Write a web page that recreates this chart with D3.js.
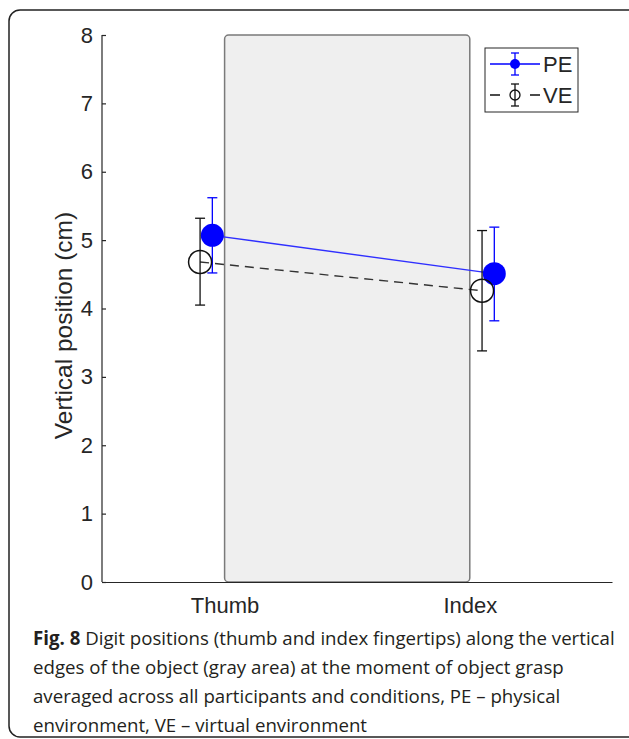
<!DOCTYPE html>
<html>
<head>
<meta charset="utf-8">
<script src="https://cdn.jsdelivr.net/npm/d3@7"></script>
<style>
  body { margin: 0; background: #fff; }
  svg { display: block; }
</style>
</head>
<body>
<div id="chart"></div>
<script>
// Data
let digits = ["Thumb", "Index"];
let digitPos = [1, 2];
let yTicks = [0, 1, 2, 3, 4, 5, 6, 7, 8];
let objectSpan = [1, 2];         // gray object, x extent
let objectHeight = [0, 8];       // gray object, y extent

let seriesNames = ["PE", "VE"];
let peX = [0.95, 2.1];
let peMean = [5.07, 4.51];
let peLow = [4.52, 3.82];
let peHigh = [5.62, 5.19];
let veX = [0.9, 2.05];
let veMean = [4.68, 4.26];
let veLow = [4.05, 3.38];
let veHigh = [5.32, 5.14];

let captionBold = "Fig. 8";
let captionLines = [
  " Digit positions (thumb and index fingertips) along the vertical",
  "edges of the object (gray area) at the moment of object grasp",
  "averaged across all participants and conditions, PE \u2013 physical",
  "environment, VE \u2013 virtual environment"
];

// Layout
let svgWidth = 629, svgHeight = 739;
let plot = { left: 102, right: 612, top: 35, bottom: 582 };
let axisColor = "#262626";
let fontMain = "'Liberation Sans', Arial, Helvetica, sans-serif";

let svg = d3.select("#chart")
  .append("svg")
  .attr("width", svgWidth)
  .attr("height", svgHeight);

// Outer frame
svg.append("rect")
  .attr("x", 9).attr("y", 10)
  .attr("width", 650).attr("height", 727)
  .attr("rx", 11).attr("ry", 11)
  .attr("fill", "none")
  .attr("stroke", "#222")
  .attr("stroke-width", 1.5);

let xScale = d3.scaleLinear().domain([0.5, 2.58]).range([plot.left, plot.right]);
let yScale = d3.scaleLinear().domain([0, 8]).range([plot.bottom, plot.top]);

// Gray object area
svg.append("rect")
  .attr("x", xScale(objectSpan[0]))
  .attr("y", yScale(objectHeight[1]))
  .attr("width", xScale(objectSpan[1]) - xScale(objectSpan[0]))
  .attr("height", yScale(objectHeight[0]) - yScale(objectHeight[1]))
  .attr("rx", 4).attr("ry", 4)
  .attr("fill", "#efefef")
  .attr("stroke", "#7a7a7a")
  .attr("stroke-width", 1.5);

// Axes
let yAxis = d3.axisLeft(yScale).tickValues(yTicks).tickSize(-4).tickPadding(9);
let yG = svg.append("g")
  .attr("transform", `translate(${plot.left}, 0)`)
  .call(yAxis);
yG.select(".domain").attr("d", `M0,${plot.top}V${plot.bottom}`);

let xAxis = d3.axisBottom(xScale).tickValues(digitPos)
  .tickFormat((d, i) => digits[i]).tickSize(0).tickPadding(15);
let xG = svg.append("g")
  .attr("transform", `translate(0, ${plot.bottom})`)
  .call(xAxis);

[yG, xG].forEach(g => {
  g.selectAll(".domain").attr("stroke", axisColor).attr("stroke-width", 1.2);
  g.selectAll(".tick line").attr("stroke", axisColor).attr("stroke-width", 1.2);
  g.selectAll("text")
    .attr("font-family", fontMain)
    .attr("font-size", 22)
    .attr("fill", axisColor);
});

// Y axis label
svg.append("text")
  .attr("transform", `translate(72, ${(plot.top + plot.bottom) / 2 + 17}) rotate(-90)`)
  .attr("text-anchor", "middle")
  .attr("font-family", fontMain)
  .attr("font-size", 24.5)
  .attr("fill", axisColor)
  .text("Vertical position (cm)");

// Series drawing
function drawSeries(xs, means, lows, highs, opts) {
  let g = svg.append("g");
  let pts = xs.map((x, i) => [xScale(x), yScale(means[i])]);
  g.append("path")
    .attr("d", d3.line()(pts))
    .attr("fill", "none")
    .attr("stroke", opts.lineColor)
    .attr("stroke-width", 1.4)
    .attr("stroke-dasharray", opts.dash);
  xs.forEach((x, i) => {
    let cx = xScale(x);
    g.append("line")
      .attr("x1", cx).attr("x2", cx)
      .attr("y1", yScale(lows[i])).attr("y2", yScale(highs[i]))
      .attr("stroke", opts.color).attr("stroke-width", 1.3);
    [lows[i], highs[i]].forEach(v => {
      g.append("line")
        .attr("x1", cx - 5).attr("x2", cx + 5)
        .attr("y1", yScale(v)).attr("y2", yScale(v))
        .attr("stroke", opts.color).attr("stroke-width", 1.3);
    });
    g.append("circle")
      .attr("cx", cx).attr("cy", yScale(means[i]))
      .attr("r", 11.5)
      .attr("fill", opts.fill)
      .attr("stroke", opts.color)
      .attr("stroke-width", opts.filled ? 0 : 1.5);
  });
}

drawSeries(peX, peMean, peLow, peHigh,
  { color: "#0000ff", lineColor: "#2f2fff", fill: "#0000ff", filled: true, dash: null });
drawSeries(veX, veMean, veLow, veHigh,
  { color: "#111", lineColor: "#333", fill: "none", filled: false, dash: "9,6" });

// Legend
let leg = svg.append("g");
leg.append("rect")
  .attr("x", 485).attr("y", 48)
  .attr("width", 93).attr("height", 64)
  .attr("fill", "#fff")
  .attr("stroke", axisColor)
  .attr("stroke-width", 1);

let legendRows = [
  { name: seriesNames[0], y: 64, color: "#0000ff", fill: "#0000ff", dash: null },
  { name: seriesNames[1], y: 95, color: "#111", fill: "none", dash: "10,30,10,10" }
];
legendRows.forEach(r => {
  leg.append("line")
    .attr("x1", 490).attr("x2", 540)
    .attr("y1", r.y).attr("y2", r.y)
    .attr("stroke", r.color).attr("stroke-width", 1.4)
    .attr("stroke-dasharray", r.dash);
  leg.append("line")
    .attr("x1", 515).attr("x2", 515)
    .attr("y1", r.y - 11).attr("y2", r.y + 11)
    .attr("stroke", r.color).attr("stroke-width", 1.3);
  [r.y - 11, r.y + 11].forEach(yy => {
    leg.append("line")
      .attr("x1", 511).attr("x2", 519)
      .attr("y1", yy).attr("y2", yy)
      .attr("stroke", r.color).attr("stroke-width", 1.3);
  });
  leg.append("circle")
    .attr("cx", 515).attr("cy", r.y).attr("r", 5)
    .attr("fill", r.fill === "none" ? "none" : r.fill)
    .attr("stroke", r.color).attr("stroke-width", r.fill === "none" ? 1.3 : 0);
  leg.append("text")
    .attr("x", 543).attr("y", r.y)
    .attr("dy", "0.36em")
    .attr("font-family", fontMain)
    .attr("font-size", 22)
    .attr("fill", axisColor)
    .text(r.name);
});

// Caption
let capFont = "'Open Sans', 'Noto Sans', sans-serif";
let cap = svg.append("g").attr("font-family", capFont).attr("fill", "#231f20");
let capSize = 18;
let capY = [645, 674, 703, 732];
captionLines.forEach((line, i) => {
  let t = cap.append("text")
    .attr("x", 33).attr("y", capY[i])
    .attr("font-size", capSize);
  if (i === 0) {
    t.append("tspan").attr("font-weight", "bold").text(captionBold);
  }
  t.append("tspan").text(line);
});
// fit first caption line to the figure width
let first = cap.select("text").node();
let w = first.getComputedTextLength();
let scale = 582 / w;
cap.selectAll("text").attr("font-size", capSize * scale);
</script>
</body>
</html>
